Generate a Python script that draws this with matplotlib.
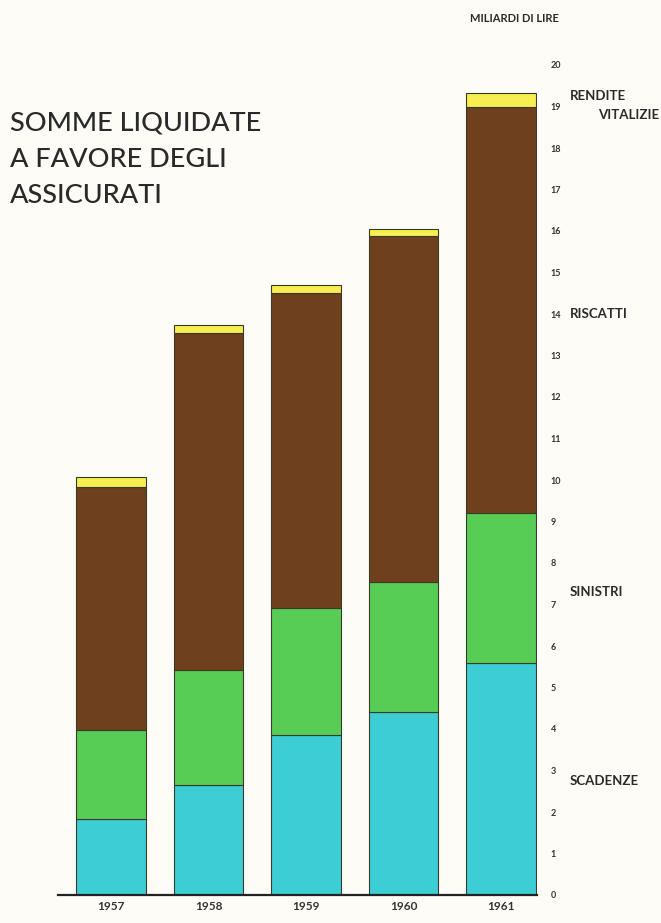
import matplotlib.pyplot as plt
from matplotlib.transforms import blended_transform_factory

# data (miliardi di lire)
anni = ['1957', '1958', '1959', '1960', '1961']
scadenze = [1.82, 2.65, 3.86, 4.41, 5.59]
sinistri = [2.16, 2.77, 3.06, 3.13, 3.61]
riscatti = [5.85, 8.12, 7.59, 8.34, 9.79]
rendite = [0.24, 0.19, 0.19, 0.17, 0.34]
yticks = list(range(0, 21))

serie = [('SCADENZE', scadenze, '#3ccdd5'),
         ('SINISTRI', sinistri, '#58cd55'),
         ('RISCATTI', riscatti, '#6f401d'),
         ('RENDITE VITALIZIE', rendite, '#f7ee52')]

plt.rcParams['font.family'] = ['Lato', 'DejaVu Sans']
bg = '#fdfcf6'
ink = '#2a2a2a'

fig = plt.figure(figsize=(6.61, 9.23), dpi=100)
fig.patch.set_facecolor(bg)
ax = fig.add_axes([58 / 661, 28 / 923, 479 / 661, 830 / 923])
ax.set_facecolor(bg)

x = list(range(len(anni)))
bottom = [0.0] * len(anni)
for nome, vals, col in serie:
    ax.bar(x, vals, width=0.71, bottom=bottom, color=col,
           edgecolor='#3a3a2a', linewidth=0.8, zorder=2)
    bottom = [b + v for b, v in zip(bottom, vals)]

ax.set_xlim(-0.544, 4.37)
ax.set_ylim(0, 20)

for s in ['top', 'left', 'right']:
    ax.spines[s].set_visible(False)
ax.spines['bottom'].set_linewidth(1.6)
ax.spines['bottom'].set_color('#222222')

ax.set_xticks(x)
ax.set_xticklabels(anni, fontsize=8.5, fontweight='bold', color='#333333')
ax.tick_params(axis='x', length=0, pad=4)

ax.yaxis.tick_right()
ax.set_yticks(yticks)
ax.set_yticklabels([str(t) for t in yticks], fontsize=6.5,
                   fontweight='bold', color='#333333')
ax.tick_params(axis='y', length=0, pad=10)

# category labels on the right
tr = blended_transform_factory(fig.transFigure, ax.transData)
etich = [('SCADENZE', 2.75), ('SINISTRI', 7.3), ('RISCATTI', 14.0)]
for testo, yv in etich:
    ax.text(570 / 661, yv, testo, transform=tr, fontsize=9.5,
            fontweight='bold', color=ink, va='center', ha='left')
ax.text(570 / 661, 19.25, 'RENDITE', transform=tr, fontsize=9.5,
        fontweight='bold', color=ink, va='center', ha='left')
ax.text(659 / 661, 18.8, 'VITALIZIE', transform=tr, fontsize=9.5,
        fontweight='bold', color=ink, va='center', ha='right')

fig.text(470 / 661, 1 - 18 / 923, 'MILIARDI DI LIRE', fontsize=8,
         fontweight='bold', color=ink, va='center', ha='left')

fig.text(10 / 661, 1 - 111 / 923, 'SOMME LIQUIDATE\nA FAVORE DEGLI\nASSICURATI',
         fontsize=19.5, fontweight='medium', color=ink, va='top', ha='left',
         linespacing=1.55)

fig.savefig('out.png', dpi=100, facecolor=bg)
